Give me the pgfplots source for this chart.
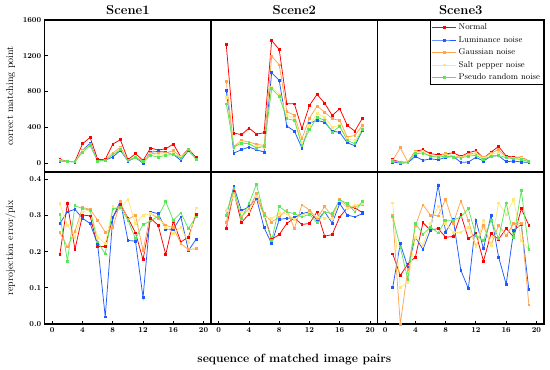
\documentclass[border=0pt]{standalone}
\usepackage{pgfplots}
\usepackage{pgfplotstable}
\pgfplotsset{compat=1.18}
\usepgfplotslibrary{groupplots}
\usetikzlibrary{calc}
\definecolor{cN}{RGB}{255,0,0}
\definecolor{cL}{RGB}{30,90,255}
\definecolor{cG}{RGB}{255,165,80}
\definecolor{cS}{RGB}{255,232,120}
\definecolor{cP}{RGB}{90,230,90}

\pgfplotstableread{
x N L G S P
1 41 23 30 28 25
2 19 19 19 19 19
3 19 12 19 15 15
4 216 142 142 130 123
5 287 224 209 200 197
6 41 23 23 23 23
7 41 34 34 34 34
8 213 67 112 100 93
9 261 142 179 160 149
10 38 23 30 30 30
11 105 60 67 64 64
12 30 0 23 15 15
13 168 123 105 95 86
14 146 130 112 90 67
15 160 123 115 95 86
16 213 97 138 110 97
17 67 30 67 60 55
18 157 142 149 149 149
19 64 48 45 45 40
}\tAt
\pgfplotstableread{
x N L G S P
1 1323 812 917 738 663
2 336 112 186 168 179
3 317 149 253 235 224
4 391 179 235 216 216
5 324 149 209 186 168
6 339 123 198 179 186
7 1371 1010 1196 850 831
8 1270 924 1099 775 745
9 663 414 578 533 496
10 663 358 533 503 477
11 384 168 272 216 198
12 645 447 503 421 373
13 768 477 637 552 514
14 671 458 570 514 477
15 533 358 496 402 347
16 607 343 477 421 410
17 421 227 291 272 253
18 358 194 309 253 216
19 503 365 421 384 373
}\tBt
\pgfplotstableread{
x N L G S P
1 37 12 30 25 22
2 12 0 172 10 12
3 8 4 12 8 8
4 134 75 134 119 105
5 149 30 123 127 112
6 105 48 78 82 75
7 93 37 78 75 67
8 101 64 105 90 78
9 116 75 78 75 67
10 75 8 67 63 56
11 116 12 97 90 78
12 138 64 116 105 86
13 56 23 60 50 41
14 123 78 112 97 78
15 186 82 149 119 86
16 78 15 67 67 60
17 67 23 56 50 48
18 64 12 67 52 41
19 23 8 19 15 15
}\tCt
\pgfplotstableread{
x N L G S P
1 0.192 0.278 0.253 0.333 0.303
2 0.333 0.310 0.213 0.273 0.174
3 0.206 0.317 0.257 0.240 0.327
4 0.301 0.292 0.322 0.310 0.319
5 0.299 0.278 0.317 0.315 0.315
6 0.214 0.220 0.287 0.240 0.227
7 0.214 0.020 0.254 0.222 0.194
8 0.294 0.294 0.266 0.324 0.318
9 0.331 0.340 0.338 0.319 0.322
10 0.293 0.231 0.289 0.345 0.287
11 0.252 0.229 0.301 0.278 0.236
12 0.178 0.073 0.203 0.301 0.275
13 0.292 0.310 0.305 0.305 0.285
14 0.273 0.305 0.292 0.296 0.298
15 0.192 0.262 0.273 0.268 0.338
16 0.284 0.262 0.266 0.250 0.287
17 0.227 0.296 0.222 0.268 0.307
18 0.240 0.203 0.206 0.224 0.264
19 0.303 0.234 0.208 0.321 0.296
}\tAb
\pgfplotstableread{
x N L G S P
1 0.264 0.299 0.282 0.315 0.301
2 0.366 0.380 0.361 0.357 0.375
3 0.280 0.313 0.296 0.310 0.292
4 0.304 0.324 0.319 0.310 0.333
5 0.350 0.347 0.361 0.352 0.386
6 0.303 0.266 0.305 0.296 0.301
7 0.234 0.222 0.282 0.292 0.231
8 0.247 0.289 0.296 0.305 0.324
9 0.278 0.292 0.315 0.305 0.310
10 0.293 0.294 0.264 0.289 0.305
11 0.275 0.305 0.329 0.301 0.296
12 0.278 0.310 0.315 0.307 0.303
13 0.310 0.287 0.292 0.296 0.280
14 0.243 0.310 0.324 0.292 0.310
15 0.247 0.279 0.298 0.292 0.305
16 0.296 0.333 0.345 0.341 0.343
17 0.321 0.301 0.326 0.319 0.333
18 0.321 0.296 0.324 0.329 0.310
19 0.308 0.305 0.331 0.333 0.340
}\tBb
\pgfplotstableread{
x N L G S P
1 0.194 0.101 0.301 0.335 0.296
2 0.134 0.222 0.000 0.101 0.213
3 0.166 0.157 0.152 0.115 0.123
4 0.185 0.240 0.272 0.240 0.278
5 0.280 0.206 0.329 0.217 0.248
6 0.259 0.261 0.301 0.278 0.268
7 0.264 0.384 0.299 0.326 0.252
8 0.240 0.254 0.345 0.278 0.287
9 0.242 0.290 0.278 0.253 0.287
10 0.303 0.149 0.340 0.253 0.296
11 0.236 0.098 0.287 0.268 0.319
12 0.250 0.287 0.213 0.213 0.245
13 0.174 0.208 0.272 0.287 0.231
14 0.250 0.301 0.217 0.217 0.287
15 0.234 0.185 0.273 0.335 0.236
16 0.264 0.110 0.245 0.303 0.335
17 0.240 0.259 0.278 0.344 0.240
18 0.319 0.275 0.278 0.231 0.369
19 0.273 0.095 0.053 0.205 0.206
}\tCb

\pgfplotsset{
  sN/.style={color=cN, line width=0.75pt, mark=square*, mark size=0.9pt},
  sL/.style={color=cL, line width=0.75pt, mark=square*, mark size=0.9pt},
  sG/.style={color=cG, line width=0.75pt, mark=square*, mark size=0.9pt},
  sS/.style={color=cS, line width=0.75pt, mark=square*, mark size=0.9pt},
  sP/.style={color=cP, line width=0.75pt, mark=square*, mark size=0.9pt},
}
\newcommand{\fiveplots}[1]{%
  \addplot[sN] table[x=x,y=N]{#1};
  \addplot[sL] table[x=x,y=L]{#1};
  \addplot[sG] table[x=x,y=G]{#1};
  \addplot[sS] table[x=x,y=S]{#1};
  \addplot[sP] table[x=x,y=P]{#1};
}

\begin{document}
\begin{tikzpicture}
\begin{groupplot}[
  group style={group size=3 by 2, horizontal sep=0pt, vertical sep=0pt},
  scale only axis, width=166.4pt, height=152pt,
  xmin=-1, xmax=21,
  axis line style={line width=1.3pt, black},
  tick style={black, line width=0.9pt},
  tick align=inside, major tick length=3pt,
  xtick pos=bottom, ytick pos=left,
  /pgf/number format/assume math mode=true,
  /pgf/number format/1000 sep={},
  every tick label/.append style={font=\fontsize{7.5}{9}\selectfont\bfseries},
  title style={font=\fontsize{13}{15}\selectfont\bfseries, yshift=-4pt},
  ylabel style={font=\fontsize{10}{12}\selectfont, at={(axis description cs:-0.205,0.5)}, anchor=center},
  legend image code/.code={\draw[mark repeat=2,mark phase=2,#1] plot coordinates {(0pt,0pt) (12pt,0pt) (24pt,0pt)};},
]
\nextgroupplot[title={Scene1}, ymin=-100, ymax=1600, ytick={0,400,...,1600}, xtick=\empty, ylabel={correct matching point}]
\fiveplots{\tAt}
\nextgroupplot[title={Scene2}, ymin=-100, ymax=1600, ytick=\empty, xtick=\empty]
\fiveplots{\tBt}
\nextgroupplot[title={Scene3}, ymin=-100, ymax=1600, ytick=\empty, xtick=\empty,
  legend style={at={(1,1)}, anchor=north east, draw=black, line width=0.9pt, font=\fontsize{8.5}{10}\selectfont, cells={anchor=west}, inner sep=1.5pt, row sep=1pt, /tikz/every even column/.append style={column sep=2pt}}]
\fiveplots{\tCt}
\legend{Normal, Luminance noise, Gaussian noise, Salt pepper noise, Pseudo random noise}
\nextgroupplot[ymin=0, ymax=0.42, ytick={0,0.1,...,0.4}, xtick={0,4,...,20}, ylabel={reprojection error/pix},
  yticklabel style={/pgf/number format/.cd, fixed, fixed zerofill, precision=1}]
\fiveplots{\tAb}
\nextgroupplot[ymin=0, ymax=0.42, ytick=\empty, xtick={0,4,...,20},
  xlabel={sequence of matched image pairs},
  xlabel style={font=\fontsize{12}{14}\selectfont\bfseries, at={(axis description cs:0.5,0)}, yshift=-35pt, anchor=center}]
\fiveplots{\tBb}
\nextgroupplot[ymin=0, ymax=0.42, ytick=\empty, xtick={0,4,...,20}]
\fiveplots{\tCb}
\end{groupplot}
\pgfresetboundingbox
\path[use as bounding box] ($(group c1r1.north west)+(-44.7pt,20pt)$) rectangle ($(group c3r2.south east)+(6pt,-45pt)$);
\end{tikzpicture}
\end{document}
